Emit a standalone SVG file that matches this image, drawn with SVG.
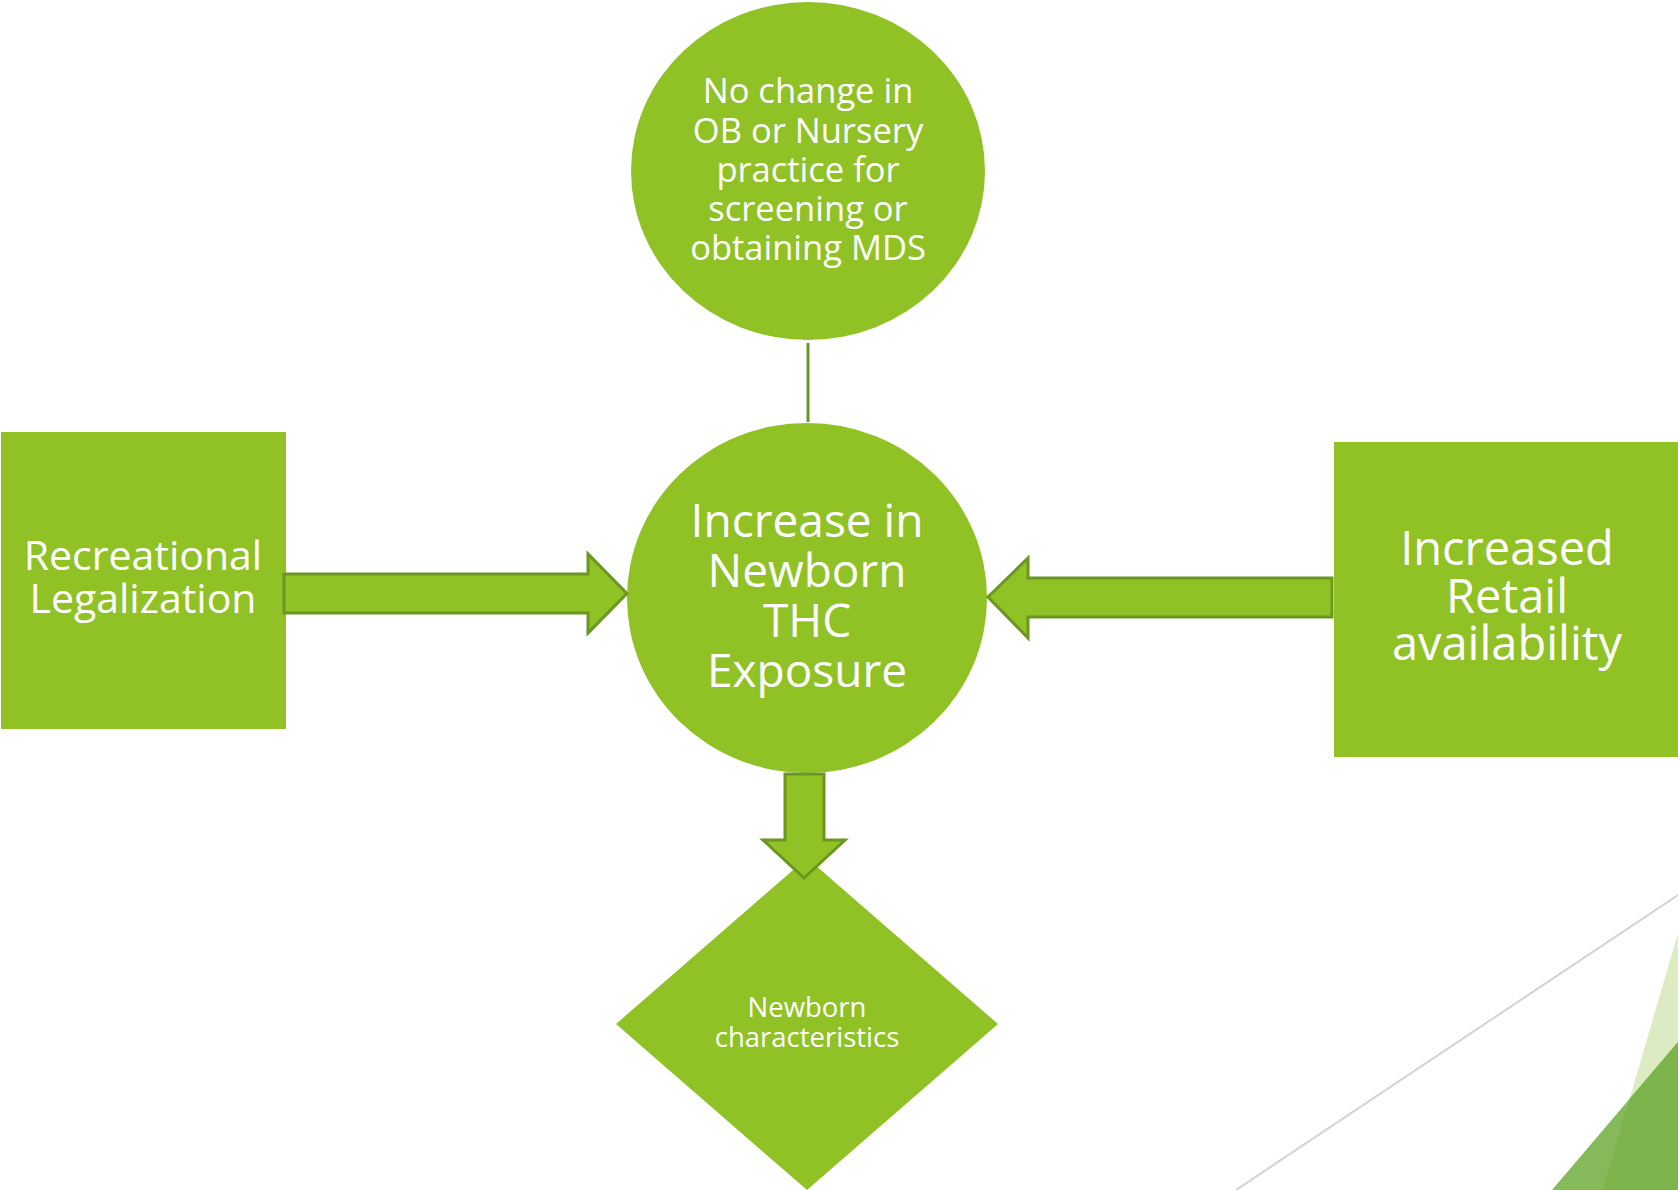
<svg xmlns="http://www.w3.org/2000/svg" width="1678" height="1190" viewBox="0 0 1678 1190">
  <style>
    .node { fill: #90c226; }
    .arrow { fill: #90c226; stroke: #6b961f; stroke-width: 3; stroke-linejoin: miter; }
    .link { stroke: #6b961f; stroke-width: 3; fill: none; }
    .t { font-family: "Open Sans", "Noto Sans", "DejaVu Sans", sans-serif; fill: #ffffff; text-anchor: middle; }
  </style>
  <rect x="0" y="0" width="1678" height="1190" fill="#ffffff"/>

  <g id="decoration">
    <line x1="1236" y1="1190" x2="1678" y2="895" stroke="#d3d3d3" stroke-width="2"/>
    <polygon points="1678,933 1603,1190 1678,1190" fill="#dcebc1"/>
    <polygon points="1678,1042 1552,1190 1678,1190" fill="#85b95a"/>
    <polygon points="1629.6,1099 1603,1190 1678,1190 1678,1042" fill="#7cb34a"/>
  </g>

  <g id="node-diamond">
    <polygon class="node" points="807,858 998,1024 807,1190 616,1024"/>
    <text class="t" font-size="27.5" x="807" y="1017">Newborn</text>
    <text class="t" font-size="27.5" x="807" y="1047">characteristics</text>
  </g>

  <g id="node-left">
    <rect class="node" x="1" y="432" width="285" height="297"/>
    <text class="t" font-size="41" x="143" y="570">Recreational</text>
    <text class="t" font-size="41" x="143" y="613">Legalization</text>
  </g>

  <g id="node-right">
    <rect class="node" x="1334" y="442" width="344" height="315"/>
    <text class="t" font-size="47" x="1507" y="565">Increased</text>
    <text class="t" font-size="47" x="1507" y="613">Retail</text>
    <text class="t" font-size="47" x="1507" y="660">availability</text>
  </g>

  <g id="node-top">
    <ellipse class="node" cx="808" cy="171" rx="177" ry="169"/>
    <text class="t" font-size="34.5" x="808" y="103">No change in</text>
    <text class="t" font-size="34.5" x="808" y="143">OB or Nursery</text>
    <text class="t" font-size="34.5" x="808" y="182">practice for</text>
    <text class="t" font-size="34.5" x="808" y="221">screening or</text>
    <text class="t" font-size="34.5" x="808" y="260">obtaining MDS</text>
  </g>

  <g id="node-center">
    <ellipse class="node" cx="807" cy="598" rx="180" ry="175"/>
    <text class="t" font-size="46" x="807" y="537">Increase in</text>
    <text class="t" font-size="46" x="807" y="587">Newborn</text>
    <text class="t" font-size="46" x="807" y="637">THC</text>
    <text class="t" font-size="46" x="807" y="687">Exposure</text>
  </g>

  <g id="connectors">
    <line class="link" x1="808" y1="343" x2="808" y2="422"/>
    <polygon class="arrow" points="284,574 588,574 588,554 627,593.5 588,633 588,613 284,613"/>
    <polygon class="arrow" points="1332,578 1028,578 1028,558 988,597 1028,638 1028,617 1332,617"/>
    <polygon class="arrow" points="785,774 824,774 824,840 845,840 804,878 763,840 785,840"/>
  </g>
</svg>
